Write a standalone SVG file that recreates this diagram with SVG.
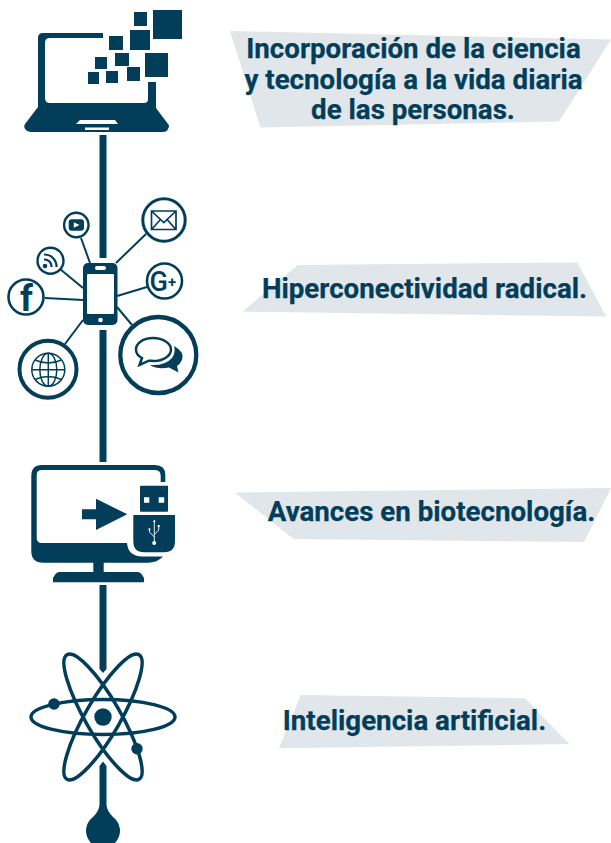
<svg xmlns="http://www.w3.org/2000/svg" width="611" height="843" viewBox="0 0 611 843">
<style>
.d{fill:#023e5a}
.w{fill:#fff}
.ring{fill:#fff;stroke:#023e5a}
.ln{stroke:#023e5a;fill:none}
.band{fill:#e1e6ea}
.t{font-family:Roboto,"Liberation Sans",sans-serif;font-weight:700;font-size:27.7px;fill:#023e5a;stroke:#023e5a;stroke-width:0.25}
.ic{font-family:Roboto,"Liberation Sans",sans-serif;font-weight:700;fill:#023e5a}
</style>
<rect width="611" height="843" fill="#fff"/>
<g id="connectors">
<path class="d" d="M99.500,135H106.500V258H99.500ZM99.500,330H106.500V462H99.500ZM99.500,585H106.500V669L103,673L99.500,669ZM99.500,766L103,761.500L106.500,766V805Q107,811 113,817A17,17 0 1 1 93,817Q99,811 99.500,805Z"/>
<g class="ln" stroke-width="2">
<path d="M81,238L90,263"/><path d="M60,269L83,288"/><path d="M45,298L83,300"/><path d="M146,234L116,263"/><path d="M147,287L117,296"/><path d="M132,325L117,307"/><path d="M65,344L83,320"/>
</g>
</g>
<g id="node-laptop">
<path class="d" fill-rule="evenodd" d="M103,33H43Q38,33 38,38V107L25,124Q23,127 26,130Q28,132 33,132H163Q167,132 168,129Q170,126 168,124L156,108V82H148V99Q148,103 144,103H50Q45,103 45,98V43Q45,38 50,38H103Z"/>
<path class="w" d="M76,124L80,120H115L118,124ZM85,127.500H109V130H85Z"/>
<path class="d" d="M153,10h29v29h-29zM134,12h13v14h-13zM130,30h20v20h-20zM109,36h14v14h-14zM115,53h14v13h-14zM145,53h23v24h-23zM95,57h12v12h-12zM127,67h13v14h-13zM106,71h12v12h-12zM88,72h11v12h-11z"/>
</g>
<g id="node-text-1">
<path class="band" d="M230,31L611,39.500L559,121.500L260.500,127.500Z"/>
<text class="t" x="413.500" y="58" text-anchor="middle">Incorporación de la ciencia</text>
<text class="t" x="413.500" y="89" text-anchor="middle">y tecnología a la vida diaria</text>
<text class="t" x="413" y="119" text-anchor="middle">de las personas.</text>
</g>
<g id="node-phone">
<rect class="d" x="83" y="263" width="34.500" height="62" rx="5"/>
<rect class="w" x="87" y="274" width="27" height="40" rx="1"/>
<rect class="w" x="95" y="266" width="11" height="4" rx="2"/>
<circle class="w" cx="100.500" cy="320" r="2.300"/>
</g>
<g id="node-mail">
<circle class="ring" cx="164" cy="220" r="21.200" stroke-width="3"/>
<path class="ln" stroke-width="1.700" d="M151.500,211H176V229.500H151.500ZM152,211.500L163.800,222.500L175.500,211.500M152,229L160,220M175.500,229L167.500,220"/>
</g>
<g id="node-youtube">
<circle class="ring" cx="76.300" cy="225" r="12.200" stroke-width="2.400"/>
<rect class="d" x="68.700" y="219.300" width="15.300" height="11.500" rx="3"/>
<path class="w" d="M73.800,222.300L79.500,225L73.800,227.800Z"/>
</g>
<g id="node-rss">
<circle class="ring" cx="50.500" cy="260.700" r="13" stroke-width="2.400"/>
<circle class="d" cx="45" cy="266" r="2.300"/>
<path class="ln" stroke-width="2.200" d="M44,259.500A7,7 0 0 1 51.500,267M44,254.500A12,12 0 0 1 56.500,267"/>
</g>
<g id="node-facebook">
<circle class="ring" cx="26" cy="297" r="17.500" stroke-width="2.600"/>
<text class="ic" x="26.500" y="310.500" font-size="36" text-anchor="middle">f</text>
</g>
<g id="node-gplus">
<circle class="ring" cx="164.500" cy="281" r="17.500" stroke-width="2.600"/>
<text x="149.500" y="290.500" font-size="27" font-family="Roboto,sans-serif" font-weight="500" fill="#023e5a">G</text>
<text class="ic" x="168" y="286.500" font-size="15">+</text>
</g>
<g id="node-globe">
<circle class="ring" cx="48" cy="369.300" r="28.500" stroke-width="4"/>
<g class="ln" stroke-width="1.500">
<circle cx="48.300" cy="369.700" r="16.500"/>
<ellipse cx="48.300" cy="369.700" rx="8.500" ry="16.500"/>
<path d="M48.300,353.200V386.200M31.800,369.700H64.800M35,360Q48.300,366 61.500,360M35,379.500Q48.300,373.500 61.500,379.500"/>
</g>
</g>
<g id="node-chat">
<circle class="ring" cx="158.300" cy="355" r="38" stroke-width="4.300"/>
<path class="d" d="M174,346Q185,352 182,360Q180,364 177,366L178.500,372.500L169,367.500Q158,370 150,365Q165,366 172,358Q176,352 174,346Z"/>
<path class="ring" stroke-width="2.500" d="M153,338C143,338 136,343.500 136,349.500C136,353 138,356 142,358L139.500,365L149,360.700C150.500,360.700 152,361 153.500,361C163,361 171,356 171,349.500C171,343.500 163,338 153,338Z"/>
</g>
<g id="node-text-2">
<path class="band" d="M298,265L577.500,262.500L606,316.500L242.500,311.500Z"/>
<text class="t" x="424.500" y="298" text-anchor="middle">Hiperconectividad radical.</text>
</g>
<g id="node-monitor">
<path class="d" fill-rule="evenodd" d="M165.300,482V475Q165.300,465 155,465H42Q31.300,465 31.300,476V551Q31.300,562.700 43,562.700H148Q157,562.700 163,556.500H142Q128,556 127,543H42Q36.700,543 36.700,538V475Q36.700,470 42,470H155Q160.700,470 160.700,476V482Z"/>
<path class="d" d="M93.300,562H103.700V572H93.300ZM59,572H138Q141,572 144,578V582.300H53V578Q56,572 59,572Z"/>
<path class="d" d="M82,509.300H96V498.700L127.300,514.300L96,530V519.300H82Z"/>
<path class="d" d="M140,486.500Q140,485.700 141,485.700H168V510.700Q168,511.700 167,511.700H141Q140,511.700 140,510.700Z"/>
<path class="w" d="M144,497.300h5.300v5.400h-5.300zM158.700,497.300h5.500v5.400h-5.500z"/>
<path class="d" d="M133.300,515H175V541Q175,552.300 164,552.300H144Q133.300,552.300 133.300,541Z"/>
<g id="usb-symbol">
<path class="ln" style="stroke:#fff" stroke-width="0.900" d="M154.300,521V543M154.300,537L149.500,532V529.500M154.300,534.500L158.700,530V527"/>
<path class="w" d="M154.300,519.500L153,522H155.600Z"/>
<circle class="w" cx="154.200" cy="543" r="2"/><circle class="w" cx="149.400" cy="529.300" r="1.100"/>
<rect class="w" x="157.700" y="525" width="2" height="2"/>
</g>
</g>
<g id="node-text-3">
<path class="band" d="M235,492.500L611,488L584,542L293.500,539Z"/>
<text class="t" x="431.500" y="521" text-anchor="middle">Avances en biotecnología.</text>
</g>
<g id="node-atom">
<g class="ln" stroke-width="3.500">
<ellipse cx="103" cy="717" rx="72" ry="17.500"/>
<ellipse cx="103" cy="717" rx="72" ry="17.500" transform="rotate(60 103 717)"/>
<ellipse cx="103" cy="717" rx="72" ry="17.500" transform="rotate(-60 103 717)"/>
</g>
<circle class="d" cx="103" cy="717" r="8.700"/>
<circle class="d" cx="54" cy="704" r="5.800"/>
<circle class="d" cx="137" cy="748.700" r="5.700"/>
</g>
<g id="node-text-4">
<path class="band" d="M300.700,695L525,698.300L569.300,744L279,748.300Z"/>
<text class="t" x="414.500" y="730" text-anchor="middle">Inteligencia artificial.</text>
</g>
</svg>
